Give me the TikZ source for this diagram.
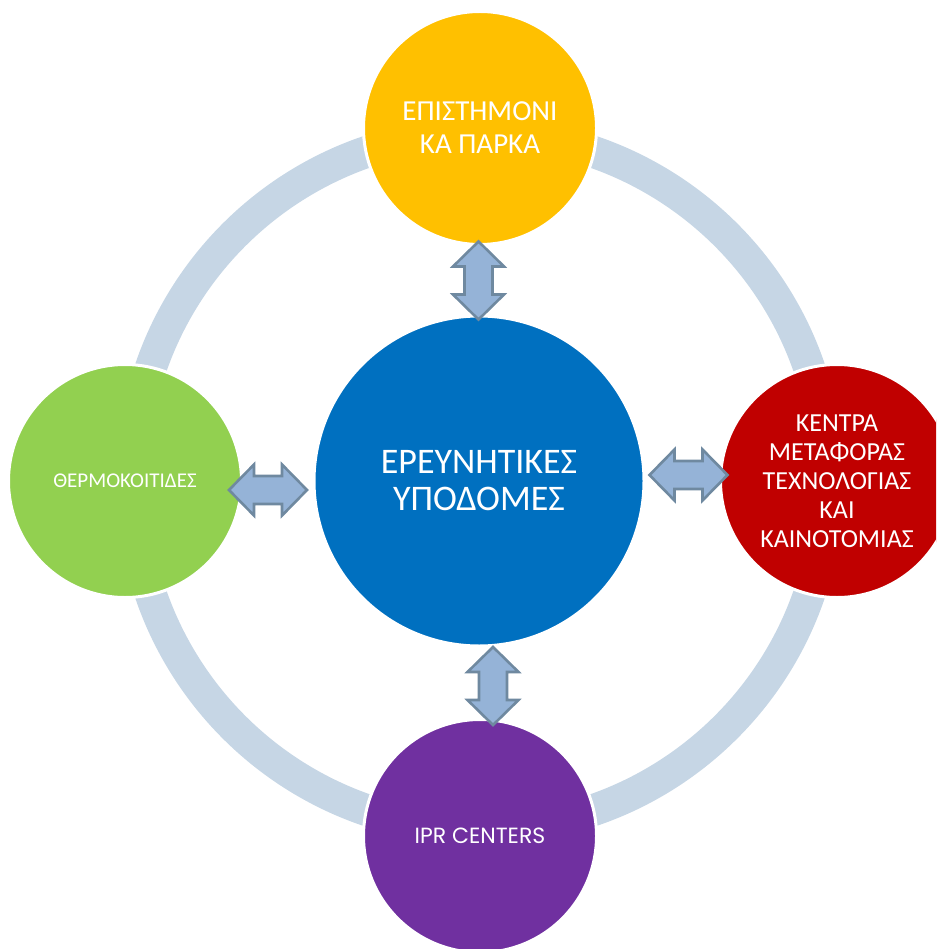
\documentclass[tikz,border=0pt]{standalone}
\usepackage{fontspec}
\setmainfont{Carlito}
\newfontfamily\iprfont{Poppins}
\definecolor{ringc}{RGB}{198,214,229}
\definecolor{cyellow}{HTML}{FFC000}
\definecolor{cblue}{HTML}{0070C0}
\definecolor{cgreen}{HTML}{92D050}
\definecolor{cred}{HTML}{C00000}
\definecolor{cpurple}{HTML}{7030A0}
\definecolor{arrfill}{RGB}{149,179,215}
\definecolor{arrline}{RGB}{111,137,160}
\tikzset{
  bubble/.style={circle, draw=white, line width=3pt, minimum size=233pt, inner sep=0pt,
    text=white, align=center},
  arrowbox/.style={fill=arrfill, draw=arrline, line width=2.6pt, line join=miter},
  dblarrow/.pic={
    \path[arrowbox] (-39,0) -- (-14,25.5) -- (-14,14) -- (14,14) -- (14,25.5) -- (39,0)
      -- (14,-25.5) -- (14,-14) -- (-14,-14) -- (-14,-25.5) -- cycle;
  }
}
\begin{document}
\begin{tikzpicture}[x=1pt,y=-1pt]
\useasboundingbox (0,0) rectangle (936,949);
\clip (0,0) rectangle (936,949);
% ring
\draw[ringc, line width=32pt] (480,481) circle[radius=348];
% circles
\node[bubble, fill=cyellow, font=\fontsize{29}{33}\selectfont] (top) at (480,128)
  {ΕΠΙΣΤΗΜΟΝΙ\\ΚΑ ΠΑΡΚΑ};
\node[bubble, fill=cgreen, font=\fontsize{21}{25}\selectfont] (left) at (125,481)
  {ΘΕΡΜΟΚΟΙΤΙΔΕΣ};
\node[bubble, fill=cred, font=\fontsize{26}{29}\selectfont] (right) at (837,481)
  {ΚΕΝΤΡΑ\\ΜΕΤΑΦΟΡΑΣ\\ΤΕΧΝΟΛΟΓΙΑΣ\\ΚΑΙ\\ΚΑΙΝΟΤΟΜΙΑΣ};
\node[bubble, fill=cpurple, font=\iprfont\fontsize{22}{26}\selectfont] (bottom) at (480,836)
  {IPR CENTERS};
\node[bubble, fill=cblue, minimum size=330pt, font=\fontsize{36}{37}\selectfont] (center) at (479,481)
  {ΕΡΕΥΝΗΤΙΚΕΣ\\ΥΠΟΔΟΜΕΣ};
% arrows
\pic[rotate=90] (atop) at (478.5,280.5) {dblarrow};
\pic[rotate=90] (abottom) at (493,686) {dblarrow};
\pic (aleft) at (268,490) {dblarrow};
\pic (aright) at (688.5,475) {dblarrow};
\end{tikzpicture}
\end{document}
